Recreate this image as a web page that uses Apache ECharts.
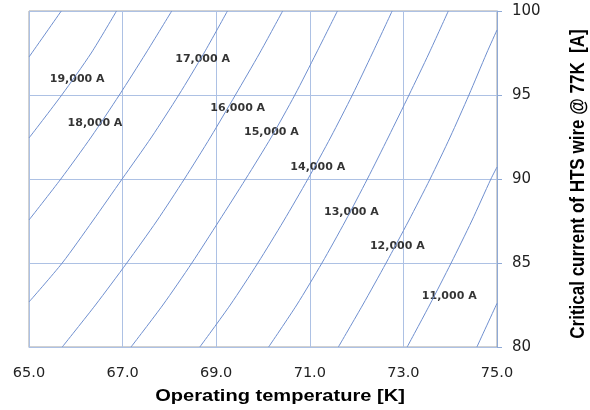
<!DOCTYPE html>
<html>
<head>
<meta charset="utf-8">
<script src="https://cdn.jsdelivr.net/npm/echarts@6/dist/echarts.min.js"></script>
<style>
  html, body { margin: 0; padding: 0; background: #fff; }
  #chart { width: 590px; height: 410px; }
</style>
</head>
<body>
<div id="chart"></div>
<script>
// Constant-current contours: [operating temperature (K), critical current of HTS wire @ 77K (A)]
const contour20000 = [[65.69, 100], [65.0, 97.26]];
const contour19000 = [[66.87, 100], [66.33, 97.5], [65.70, 95], [65.0, 92.44]];
const contour18000 = [[68.05, 100], [67.50, 97.5], [66.93, 95], [66.33, 92.5], [65.68, 90], [65.0, 87.56]];
const contour17000 = [[69.24, 100], [68.74, 97.5], [68.20, 95], [67.62, 92.5], [66.99, 90], [66.36, 87.5], [65.71, 85], [65.0, 82.68]];
const contour16000 = [[70.42, 100], [69.93, 97.5], [69.41, 95], [68.88, 92.5], [68.32, 90], [67.73, 87.5], [67.09, 85], [66.42, 82.5], [65.71, 80]];
const contour15000 = [[71.59, 100], [71.14, 97.5], [70.68, 95], [70.18, 92.5], [69.63, 90], [69.06, 87.5], [68.48, 85], [67.86, 82.5], [67.18, 80]];
const contour14000 = [[72.76, 100], [72.34, 97.5], [71.91, 95], [71.45, 92.5], [70.96, 90], [70.44, 87.5], [69.89, 85], [69.30, 82.5], [68.65, 80]];
const contour13000 = [[73.96, 100], [73.55, 97.5], [73.12, 95], [72.68, 92.5], [72.23, 90], [71.76, 87.5], [71.26, 85], [70.72, 82.5], [70.12, 80]];
const contour12000 = [[75.0, 98.87], [74.78, 97.5], [74.40, 95], [74.00, 92.5], [73.57, 90], [73.11, 87.5], [72.63, 85], [72.13, 82.5], [71.61, 80]];
const contour11000 = [[75.0, 90.71], [74.87, 90], [74.46, 87.5], [74.02, 85], [73.56, 82.5], [73.08, 80]];
const contour10000 = [[75.0, 82.6], [74.57, 80]];

// Current labels placed along the contours
const labelTexts = ['19,000 A', '18,000 A', '17,000 A', '16,000 A', '15,000 A', '14,000 A', '13,000 A', '12,000 A', '11,000 A'];
const labelTemps = [66.03, 66.41, 68.71, 69.46, 70.18, 71.17, 71.89, 72.87, 73.98];
const labelIc    = [95.95, 93.33, 97.14, 94.23, 92.80, 90.71, 88.05, 86.01, 83.05];

// Axis ticks
const xTicks = { min: 65, max: 75, step: 2 };
const yTicks = { min: 80, max: 100, step: 5 };

const contours = [contour20000, contour19000, contour18000, contour17000, contour16000,
                  contour15000, contour14000, contour13000, contour12000, contour11000, contour10000];

const LINE_COLOR = '#6f8fcf';
const GRID_COLOR = '#adc1e4';

const chart = echarts.init(document.getElementById('chart'), null, { renderer: 'canvas' });

const series = contours.map(pts => ({
  type: 'line',
  data: pts,
  showSymbol: false,
  symbol: 'none',
  smooth: 0.25,
  clip: true,
  silent: true,
  lineStyle: { color: LINE_COLOR, width: 1 }
}));

series.push({
  type: 'scatter',
  symbolSize: 0,
  silent: true,
  data: labelTexts.map((t, i) => [labelTemps[i], labelIc[i], t]),
  label: {
    show: true,
    position: 'inside',
    formatter: p => p.value[2],
    fontFamily: 'DejaVu Sans',
    fontWeight: 'bold',
    fontSize: 11,
    color: '#000'
  }
});

chart.setOption({
  animation: false,
  backgroundColor: '#ffffff',
  grid: {
    left: 29, right: 93, top: 11, bottom: 63,
    show: true, borderColor: '#a3a3a3', borderWidth: 1
  },
  xAxis: {
    type: 'value',
    min: xTicks.min, max: xTicks.max, interval: xTicks.step,
    axisLine: { show: true, lineStyle: { color: GRID_COLOR } },
    axisTick: { show: false },
    axisLabel: {
      formatter: v => v.toFixed(1),
      color: '#222', fontFamily: 'DejaVu Sans', fontSize: 14.5, margin: 19
    },
    splitLine: { show: true, lineStyle: { color: GRID_COLOR } }
  },
  yAxis: {
    type: 'value',
    position: 'right',
    min: yTicks.min, max: yTicks.max, interval: yTicks.step,
    axisLine: { show: true, lineStyle: { color: '#8ea9d6' } },
    axisTick: { show: true, inside: false, length: 5, lineStyle: { color: '#8ea9d6' } },
    axisLabel: { color: '#222', fontFamily: 'DejaVu Sans', fontSize: 15, margin: 15 },
    splitLine: { show: true, lineStyle: { color: GRID_COLOR } }
  },
  graphic: [
    {
      type: 'text', x: 280, y: 396, scaleX: 1.18, silent: true,
      style: {
        text: 'Operating temperature [K]',
        font: 'bold 17px "Liberation Sans", Arial, sans-serif',
        fill: '#000', textAlign: 'center', textVerticalAlign: 'middle',
        align: 'center', verticalAlign: 'middle'
      }
    },
    {
      type: 'text', x: 578, y: 184, rotation: Math.PI / 2, scaleY: 1.18, silent: true,
      style: {
        text: 'Critical current of HTS wire @ 77K  [A]',
        font: 'bold 17px "Liberation Sans", Arial, sans-serif',
        fill: '#000', textAlign: 'center', textVerticalAlign: 'middle',
        align: 'center', verticalAlign: 'middle'
      }
    }
  ],
  series: series
});
</script>
</body>
</html>
